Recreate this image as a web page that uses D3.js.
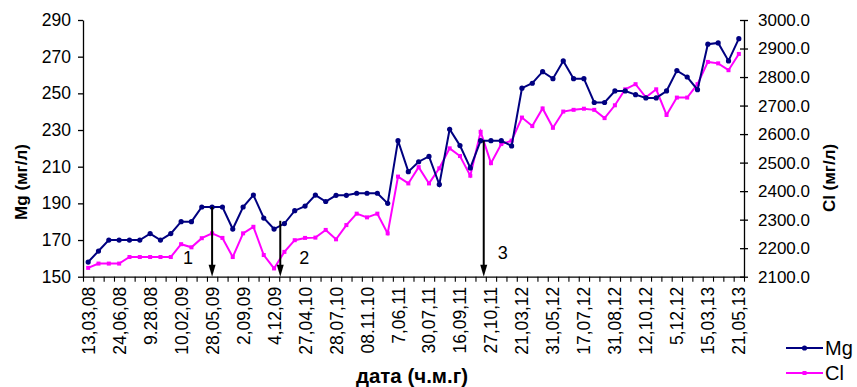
<!DOCTYPE html>
<html><head><meta charset="utf-8">
<script src="https://cdn.jsdelivr.net/npm/d3@7"></script>
<style>
body{margin:0;background:#fff;}
svg{display:block;font-family:"Liberation Sans",Arial,sans-serif;}
</style></head>
<body>
<svg id="c" width="857" height="387"></svg>
<script>
// ---- data ----
const tickLabels = ["13,03,08","24,06,08","9.28.08","10,02,09","28,05,09","2,09,09","4,12,09","27,04,10","28,07,10","08.11.10","7,06,11","30,07,11","16,09,11","27,10,11","21,03,12","31,05,12","17,07,12","31,08,12","12,10,12","5,12,12","15,03,13","21,05,13"];
const labelEvery = 3;
const mg = [158,164,170,170,170,170,173.5,170,173.5,180,180,188,188,188,176,188,194.5,182,176,179,186,188.5,194.5,191,194.4,194.4,195.5,195.5,195.5,190,224.2,207.3,212.7,215.6,200.3,230.4,221.5,209.3,224.2,224.2,224.2,221.3,252.8,255.5,261.8,258,267.7,258,258,245,245,251.3,251.3,249.3,247.5,247.5,251.3,262.4,258.9,252,276.8,277.5,267.7,279.8];
const cl = [2131,2146,2146,2146,2169,2169,2169,2169,2169,2214,2203,2235,2252,2236,2169,2252,2275,2176,2129,2187,2228,2236,2237,2264,2231,2281,2321,2308,2321,2252,2451,2427,2484,2427,2480,2550,2523,2454,2608,2498,2565,2577,2658,2628,2690,2622,2679,2685,2689,2685,2656,2701,2757,2775,2729,2757,2667,2728,2728,2775,2853,2848,2824,2881];
const categories = d3.range(mg.length);
const mgTicks = [150,170,190,210,230,250,270,290];
const clTicks = [2100,2200,2300,2400,2500,2600,2700,2800,2900,3000];
const arrows = [{label:"1", at:12, top:188, dx:-24, ly:258},{label:"2", at:18.6, top:180.5, dx:24, ly:258},{label:"3", at:38.3, top:224.2, dx:19, ly:253}];

// ---- layout ----
const L=83, R=744, T=20, B=276.7;
const svg = d3.select("#c");
const x = d3.scaleBand().domain(categories).range([L,R]).padding(0);
const bw = x.bandwidth();
const cx = i => x(i)+bw/2;
const xl = d3.scaleLinear().domain([0,categories.length]).range([L,R]);
const yMg = d3.scaleLinear().domain([150,290]).range([B,T]);
const yCl = d3.scaleLinear().domain([2100,3000]).range([B,T]);

// left axis
const ga = svg.append("g").attr("transform",`translate(${L},0)`)
  .call(d3.axisLeft(yMg).tickValues(mgTicks).tickSize(5).tickSizeOuter(0).tickPadding(7).tickFormat(d3.format("d")));
ga.select(".domain").attr("stroke","#000").attr("stroke-width",1.3);
ga.selectAll("text").attr("font-size",17.5).attr("fill","#000");
ga.selectAll("line").attr("stroke","#000").attr("stroke-width",1.3);

// right axis
const gr = svg.append("g").attr("transform",`translate(${R},0)`)
  .call(d3.axisRight(yCl).tickValues(clTicks).tickSize(4).tickSizeOuter(0).tickPadding(10).tickFormat(d3.format(".1f")));
gr.selectAll(".tick line").attr("x1",-4);
gr.select(".domain").attr("stroke","#000").attr("stroke-width",1.3);
gr.selectAll("text").attr("font-size",17).attr("fill","#000");
gr.selectAll("line").attr("stroke","#000").attr("stroke-width",1.3);

// bottom axis
const gb = svg.append("g").attr("transform",`translate(0,${B})`)
  .call(d3.axisBottom(xl).tickValues(d3.range(categories.length+1)).tickSize(5).tickSizeOuter(0).tickFormat(""));
gb.select(".domain").attr("stroke","#000").attr("stroke-width",1.3);
gb.selectAll("line").attr("stroke","#000").attr("stroke-width",1.1);

// rotated tick labels
svg.append("g").selectAll("text").data(tickLabels).join("text")
  .attr("transform",(d,k)=>`translate(${cx(k*labelEvery)+6.5},${B+10}) rotate(-90)`)
  .attr("text-anchor","end").attr("font-size",17.5).attr("fill","#000").text(d=>d);

// lines
const lineMg = d3.line().x((d,i)=>cx(i)).y(d=>yMg(d));
const lineCl = d3.line().x((d,i)=>cx(i)).y(d=>yCl(d));
svg.append("path").datum(cl).attr("d",lineCl).attr("fill","none").attr("stroke","#FF00FF").attr("stroke-width",2);
svg.append("g").selectAll("rect").data(cl).join("rect")
  .attr("x",(d,i)=>cx(i)-2).attr("y",d=>yCl(d)-2).attr("width",4).attr("height",4).attr("fill","#FF00FF");
svg.append("path").datum(mg).attr("d",lineMg).attr("fill","none").attr("stroke","#000080").attr("stroke-width",2);
svg.append("g").selectAll("circle").data(mg).join("circle")
  .attr("cx",(d,i)=>cx(i)).attr("cy",d=>yMg(d)).attr("r",2.6).attr("fill","#000080");

// arrows
const ag = svg.append("g");
arrows.forEach(a=>{
  const ax = cx(0)+a.at*bw;
  ag.append("line").attr("x1",ax).attr("x2",ax).attr("y1",yMg(a.top)).attr("y2",B-10).attr("stroke","#000").attr("stroke-width",2);
  ag.append("path").attr("d",`M${ax-3.5},${B-12}L${ax+3.5},${B-12}L${ax},${B}Z`).attr("fill","#000");
  ag.append("text").attr("x",ax+a.dx).attr("y",a.ly).attr("dy","0.35em").attr("text-anchor","middle").attr("font-size",18).text(a.label);
});

// axis titles
svg.append("text").attr("transform","translate(27,182) rotate(-90)").attr("text-anchor","middle")
  .attr("font-size",17).attr("font-weight","bold").text("Mg (мг/л)");
svg.append("text").attr("transform","translate(835,178) rotate(-90)").attr("text-anchor","middle")
  .attr("font-size",17).attr("font-weight","bold").text("Cl (мг/л)");
svg.append("text").attr("x",412).attr("y",383).attr("text-anchor","middle")
  .attr("font-size",20.5).attr("font-weight","bold").text("дата (ч.м.г)");

// legend
const legend = [{name:"Mg", color:"#000080", y:348, shape:"c"},{name:"Cl", color:"#FF00FF", y:373, shape:"s"}];
legend.forEach(l=>{
  svg.append("line").attr("x1",786).attr("x2",823).attr("y1",l.y).attr("y2",l.y).attr("stroke",l.color).attr("stroke-width",2);
  if(l.shape==="c") svg.append("circle").attr("cx",804.5).attr("cy",l.y).attr("r",2.6).attr("fill",l.color);
  else svg.append("rect").attr("x",802.5).attr("y",l.y-2).attr("width",4).attr("height",4).attr("fill",l.color);
  svg.append("text").attr("x",825).attr("y",l.y).attr("dy","0.36em").attr("font-size",20).text(l.name);
});
</script>
</body></html>
